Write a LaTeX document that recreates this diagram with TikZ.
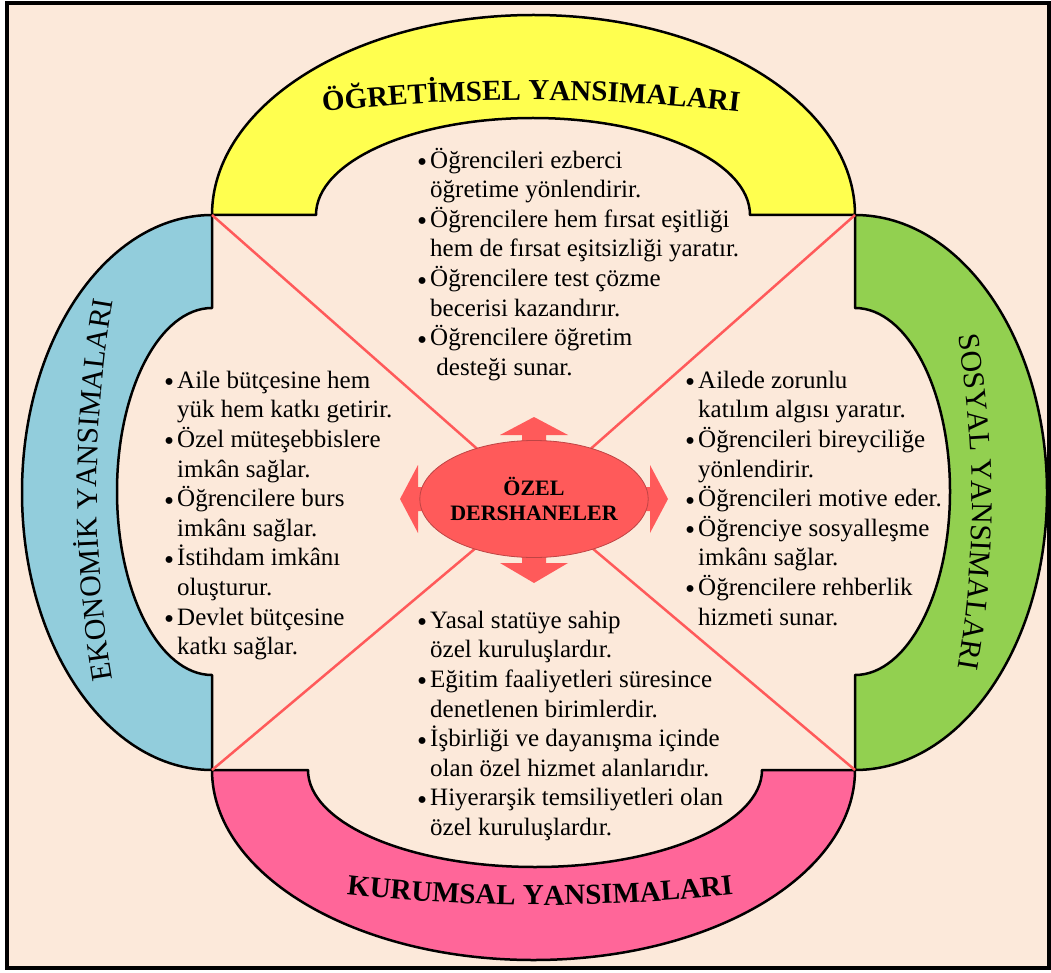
\documentclass[tikz,border=0pt]{standalone}
\usepackage{fontspec}
\usepackage{graphicx}
\setmainfont{Liberation Serif}
\usetikzlibrary{shapes.geometric,decorations.text}

\definecolor{arka}{HTML}{FCE9DA}
\definecolor{sari}{HTML}{FFFF4F}
\definecolor{mavi}{HTML}{92CDDC}
\definecolor{yesil}{HTML}{92D050}
\definecolor{pembe}{HTML}{FF6699}
\definecolor{kirmizi}{HTML}{FF5A5A}

\newcommand{\madde}{\makebox[13pt][l]{\raisebox{-3.5pt}{\scalebox{1.15}{•}}}}
\newcommand{\girinti}{\hspace*{13pt}}
\newcommand{\ilk}{\rule{0pt}{24pt}}
\newcommand{\kalin}{\fontsize{29}{29}\selectfont\bfseries}
\newcommand{\ince}{\fontsize{30}{30}\selectfont}

\tikzset{
  kemer/.style={draw=black, line width=2.5pt, line join=round},
  cizgi/.style={draw=kirmizi, line width=2.5pt},
  madde kutusu/.style={anchor=north west, inner sep=0pt, align=left, font=\fontsize{25}{29.6}\selectfont},
  ozel kutu/.style={ellipse, fill=kirmizi, draw=kirmizi!75!black, line width=0.8pt, minimum width=228pt, minimum height=117pt, inner xsep=-3pt, inner ysep=0pt, align=center, font=\fontsize{22}{25}\selectfont\bfseries},
}

\begin{document}
\begin{tikzpicture}[x=1pt,y=1pt]
\useasboundingbox (0,0) rectangle (1051,-973);
\draw[fill=arka, line width=3.5pt] (7,-3) rectangle (1049,-968);

\coordinate (sol-ust) at (212,-215);
\coordinate (sag-ust) at (855,-215);
\coordinate (sol-alt) at (212,-770);
\coordinate (sag-alt) at (855,-770);
\coordinate (merkez) at (534,-499);

\draw[kemer, fill=sari] (sol-ust) arc[start angle=180, end angle=0, x radius=321.5, y radius=200] -- (750,-215) arc[start angle=0, end angle=180, x radius=217, y radius=97] -- cycle;
\draw[kemer, fill=mavi] (sol-ust) arc[start angle=90, end angle=270, x radius=190, y radius=277.5] -- (212,-675) arc[start angle=270, end angle=90, x radius=95, y radius=183.5] -- cycle;
\draw[kemer, fill=yesil] (sag-ust) arc[start angle=90, end angle=-90, x radius=192, y radius=277.5] -- (855,-675) arc[start angle=-90, end angle=90, x radius=95, y radius=183.5] -- cycle;
\draw[kemer, fill=pembe] (sol-alt) arc[start angle=180, end angle=360, x radius=321.5, y radius=190] -- (762,-770) arc[start angle=0, end angle=-180, x radius=227, y radius=97] -- cycle;

\draw[cizgi] (sol-ust) -- (merkez);
\draw[cizgi] (sag-ust) -- (merkez);
\draw[cizgi] (sol-alt) -- (merkez);
\draw[cizgi] (sag-alt) -- (merkez);

\fill[kirmizi, shift={(merkez)}] (0,82) -- (34,64) -- (12,64) -- (12,12) -- (116,12) -- (116,34) -- (134,0) -- (116,-34) -- (116,-12) -- (12,-12) -- (12,-64) -- (34,-64) -- (0,-84) -- (-34,-64) -- (-12,-64) -- (-12,-12) -- (-116,-12) -- (-116,-34) -- (-134,0) -- (-116,34) -- (-116,12) -- (-12,12) -- (-12,64) -- (-34,64) -- cycle;
\node[ozel kutu] (ozel) at (merkez) {ÖZEL\\DERSHANELER};

\path[decorate, decoration={text along path, text align=center, text={|\kalin|ÖĞRETİMSEL YANSIMALARI}}] ([shift={(531,-1900)}]100:1800) arc[start angle=100, end angle=80, radius=1800];
\path[decorate, decoration={text along path, text align=center, text={|\ince|EKONOMİK YANSIMALARI}}] ([shift={(1247,-490)}]194:1150) arc[start angle=194, end angle=166, radius=1150];
\path[decorate, decoration={text along path, text align=center, text={|\ince|SOSYAL YANSIMALARI}}] ([shift={(-28,-502)}]12:1000) arc[start angle=12, end angle=-12, radius=1000];
\path[decorate, decoration={text along path, text align=center, text={|\kalin|KURUMSAL YANSIMALARI}}] ([shift={(540,795)}]260:1700) arc[start angle=260, end angle=280, radius=1700];

\node[madde kutusu] (ust) at (417,-144) {\ilk\madde Öğrencileri ezberci\\
  \girinti öğretime yönlendirir.\\
  \madde Öğrencilere hem fırsat eşitliği\\
  \girinti hem de fırsat eşitsizliği yaratır.\\
  \madde Öğrencilere test çözme\\
  \girinti becerisi kazandırır.\\
  \madde Öğrencilere öğretim\\
  \girinti\ desteği sunar.};

\node[madde kutusu] (sol) at (164,-364) {\ilk\madde Aile bütçesine hem\\
  \girinti yük hem katkı getirir.\\
  \madde Özel müteşebbislere\\
  \girinti imkân sağlar.\\
  \madde Öğrencilere burs\\
  \girinti imkânı sağlar.\\
  \madde İstihdam imkânı\\
  \girinti oluşturur.\\
  \madde Devlet bütçesine\\
  \girinti katkı sağlar.};

\node[madde kutusu] (sag) at (685,-364) {\ilk\madde Ailede zorunlu\\
  \girinti katılım algısı yaratır.\\
  \madde Öğrencileri bireyciliğe\\
  \girinti yönlendirir.\\
  \madde Öğrencileri motive eder.\\
  \madde Öğrenciye sosyalleşme\\
  \girinti imkânı sağlar.\\
  \madde Öğrencilere rehberlik\\
  \girinti hizmeti sunar.};

\node[madde kutusu] (alt) at (417,-604) {\ilk\madde Yasal statüye sahip\\
  \girinti özel kuruluşlardır.\\
  \madde Eğitim faaliyetleri süresince\\
  \girinti denetlenen birimlerdir.\\
  \madde İşbirliği ve dayanışma içinde\\
  \girinti olan özel hizmet alanlarıdır.\\
  \madde Hiyerarşik temsiliyetleri olan\\
  \girinti özel kuruluşlardır.};
\end{tikzpicture}
\end{document}
